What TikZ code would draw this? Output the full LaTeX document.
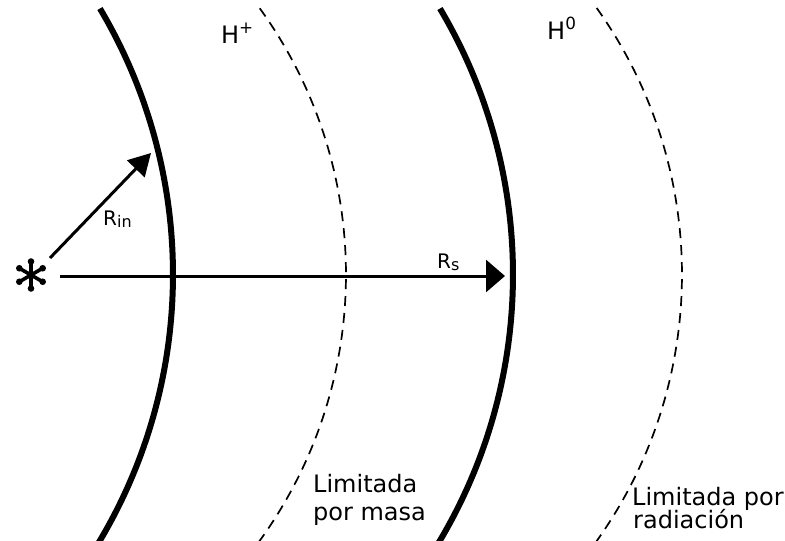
\documentclass[tikz,border=0pt]{standalone}
\usepackage{fontspec}
\setmainfont{DejaVu Sans}
\usetikzlibrary{arrows.meta}
\newcommand{\subtext}[1]{\raisebox{-2.5pt}{\fontsize{16}{16}\selectfont #1}}
\begin{document}
\begin{tikzpicture}[x=1pt,y=1pt,
  shell/.style={line width=6pt},
  front/.style={line width=1.7pt, dash pattern=on 10pt off 7pt},
  radius arrow/.style={line width=3pt},
  spoke/.style={line width=3.6pt, line cap=round},
  lbl/.style={anchor=base west, inner sep=0pt, font=\fontsize{24}{28}\selectfont},
  rlbl/.style={anchor=base west, inner sep=0pt, font=\fontsize{20}{24}\selectfont}]
\useasboundingbox (0,0) rectangle (785,-541);
% shells
\draw[shell] (-348,-274.5) ++(30.7:521) arc[start angle=30.7, end angle=-31, radius=521];
\draw[front] (-108,-274.5) ++(35.9:454) arc[start angle=35.9, end angle=-36.2, radius=454];
\draw[shell] (-8,-274.5) ++(30.7:521) arc[start angle=30.7, end angle=-31, radius=521];
\draw[front] (223,-274.5) ++(35.5:459) arc[start angle=35.5, end angle=-35.9, radius=459];
% star
\coordinate (star) at (31,-275);
\foreach \a in {90,30,150,210,270,330}{
  \draw[spoke] (star) -- ++(\a:14);
  \fill (star) ++(\a:13.5) circle[radius=3.3];
}
\coordinate (hs) at (60,-276);
\coordinate (he) at (505,-276);
\coordinate (ds) at (50,-258);
\coordinate (de) at (151,-153);
\draw[radius arrow, -{Triangle[length=19pt,width=32pt]}] (hs) -- (he);
\draw[radius arrow, -{Triangle[length=22pt,width=24pt]}] (ds) -- (de);
% labels
\node[rlbl] (rin) at (103,-225) {R\subtext{in}};
\node[rlbl] (rs) at (437,-268) {R\subtext{s}};
\node[lbl] (hp) at (221,-43) {H\textsuperscript{+}};
\node[lbl] (h0) at (547,-39) {H\textsuperscript{0}};
\node[lbl] (m1) at (313,-492) {Limitada};
\node[lbl] (m2) at (313,-520) {por masa};
\node[lbl] (r1) at (632,-505) {Limitada por};
\node[lbl] (r2) at (633,-528) {radiación};
\end{tikzpicture}
\end{document}
